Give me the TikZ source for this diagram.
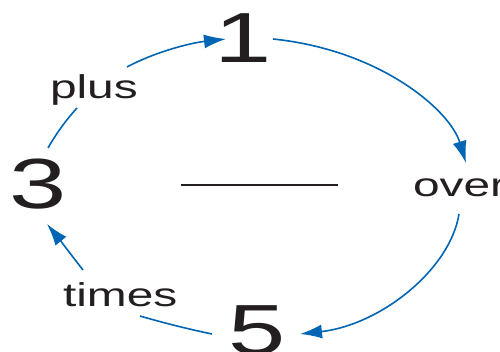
\documentclass[tikz,border=0pt]{standalone}
\usepackage{fontspec}
\setmainfont{Liberation Sans}
\usetikzlibrary{arrows.meta}
\definecolor{arrowblue}{RGB}{0,102,179}
\definecolor{ink}{RGB}{35,31,32}
\tikzset{
  digit/.style={inner sep=0pt, outer sep=0pt, text=ink, font=\fontsize{71}{71}\selectfont},
  word/.style={inner sep=0pt, outer sep=0pt, text=ink, font=\fontsize{33}{33}\selectfont},
  link/.style={draw=arrowblue, line width=1.6pt},
  linkarrow/.style={link, -{Latex[length=22pt,width=14pt]}},
}
\newcommand{\wide}[1]{\scalebox{1.45}[1]{#1}}
\begin{document}
\begin{tikzpicture}[x=1pt,y=-1pt]
\useasboundingbox (0,0) rectangle (500,352);
% text nodes
\node[digit, anchor=base] (one) at (243,63) {\wide{1}};
\node[digit, anchor=base] (three) at (38,209) {\wide{3}};
\node[digit, anchor=base] (five) at (257,354) {\wide{5}};
\node[word, anchor=base west] (plus) at (50,99) {\wide{plus}};
\node[word, anchor=base west] (over) at (413,197) {\wide{over}};
\node[word, anchor=base west] (times) at (63,306) {\wide{times}};
% fraction bar
\coordinate (barL) at (181,185);
\coordinate (barR) at (338,185);
\draw[ink, line width=2.6pt] (barL) -- (barR);
% connector end points
\coordinate (pA) at (127,67);
\coordinate (pB) at (226,39);
\coordinate (oA) at (273,39);
\coordinate (oB) at (466,163);
\coordinate (fA) at (459,214);
\coordinate (fB) at (300,334);
\coordinate (tA) at (212,334);
\coordinate (tB) at (140,316);
\coordinate (hA) at (83,270);
\coordinate (hB) at (47,224);
\coordinate (sA) at (48,148);
\coordinate (sB) at (77,108);
% connectors
\draw[linkarrow] (pA) .. controls (155,52) and (190,43) .. (pB);
\draw[linkarrow] (oA) .. controls (380,50) and (450,110) .. (oB);
\draw[linkarrow] (fA) .. controls (450,270) and (380,325) .. (fB);
\draw[link] (tA) .. controls (188,329) and (164,323) .. (tB);
\draw[linkarrow] (hA) .. controls (72,256) and (60,240) .. (hB);
\draw[link] (sA) .. controls (56,134) and (66,120) .. (sB);
\end{tikzpicture}
\end{document}
